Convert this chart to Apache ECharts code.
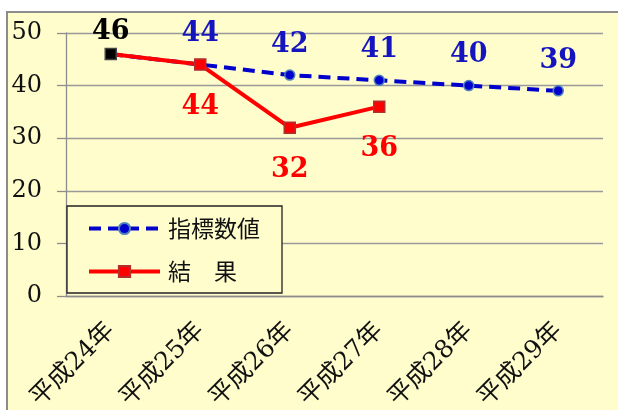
<!DOCTYPE html>
<html><head><meta charset="utf-8">
<script src="https://cdn.jsdelivr.net/npm/echarts@6/dist/echarts.min.js"></script>
<style>html,body{margin:0;padding:0;background:#fff}#c{width:618px;height:410px}</style>
</head><body><div id="c"></div>
<script>
const categories = ['平成24年','平成25年','平成26年','平成27年','平成28年','平成29年'];
const targetValues = [46, 44, 42, 41, 40, 39];
const resultValues = [46, 44, 32, 36, null, null];
const yTicks = { min: 0, max: 50, interval: 10 };
const seriesNames = ['指標数値', '結　果'];

const serif = "'DejaVu Serif', 'Noto Sans CJK JP', serif";
const chart = echarts.init(document.getElementById('c'));
chart.setOption({
  backgroundColor: '#ffffff',
  animation: false,
  graphic: [{
    type: 'rect', z: -10, silent: true,
    shape: { x: 7, y: 12, width: 700, height: 500 },
    style: { fill: '#FFFDCC', stroke: '#8c8c8c', lineWidth: 2 }
  }],
  grid: { left: 66, top: 33, width: 537, height: 263, containLabel: false, outerBoundsMode: 'none' },
  legend: {
    orient: 'vertical', left: 67, top: 206,
    padding: [11, 22, 10, 20], itemGap: 20,
    itemWidth: 71, itemHeight: 14,
    borderColor: '#222', borderWidth: 1.3, backgroundColor: '#FFFDCC',
    lineStyle: { width: 4 },
    textStyle: { fontFamily: "'Noto Sans CJK JP'", fontSize: 23, color: '#111', padding: [0, 0, 0, 3] },
    data: seriesNames
  },
  xAxis: {
    type: 'category', data: categories, boundaryGap: true,
    axisLine: { lineStyle: { color: '#8c8c8c', width: 1.3 } },
    axisTick: { length: 9, lineStyle: { color: '#8c8c8c', width: 1.3 } },
    axisLabel: { rotate: 45, margin: 31, fontFamily: serif, fontSize: 25, color: '#111' }
  },
  yAxis: {
    type: 'value', min: yTicks.min, max: yTicks.max, interval: yTicks.interval,
    axisLine: { show: true, lineStyle: { color: '#8c8c8c', width: 1.3 } },
    axisTick: { show: true, length: 9, lineStyle: { color: '#8c8c8c', width: 1.3 } },
    splitLine: { lineStyle: { color: '#9a9a9a', width: 1.3 } },
    axisLabel: { margin: 24, fontFamily: serif, fontSize: 24, color: '#111' }
  },
  series: [
    {
      name: seriesNames[0], type: 'line', z: 2,
      data: targetValues.map((v, i) => i === 0 ? { value: v, symbolSize: 0, label: { show: false } } : v),
      symbol: 'circle', symbolSize: 10,
      itemStyle: { color: '#0000CC', borderColor: '#4F81BD', borderWidth: 1.5 },
      lineStyle: { color: '#0000CC', width: 4, type: [12, 7] },
      label: { show: true, position: 'top', distance: 11, fontFamily: serif, fontSize: 27, fontWeight: 'bold', color: '#1515C0' }
    },
    {
      name: seriesNames[1], type: 'line', z: 3,
      data: resultValues.map((v, i) => i === 0 ? {
        value: v,
        itemStyle: { color: '#000', borderColor: '#444' },
        label: { position: 'top', distance: 2, color: '#000' }
      } : v),
      symbol: 'rect', symbolSize: 11, connectNulls: false,
      itemStyle: { color: '#FF0000', borderColor: '#B03030', borderWidth: 1.5 },
      lineStyle: { color: '#FF0000', width: 4 },
      label: { show: true, position: 'bottom', distance: 23, fontFamily: serif, fontSize: 27, fontWeight: 'bold', color: '#FF0000' }
    }
  ]
});
</script></body></html>
